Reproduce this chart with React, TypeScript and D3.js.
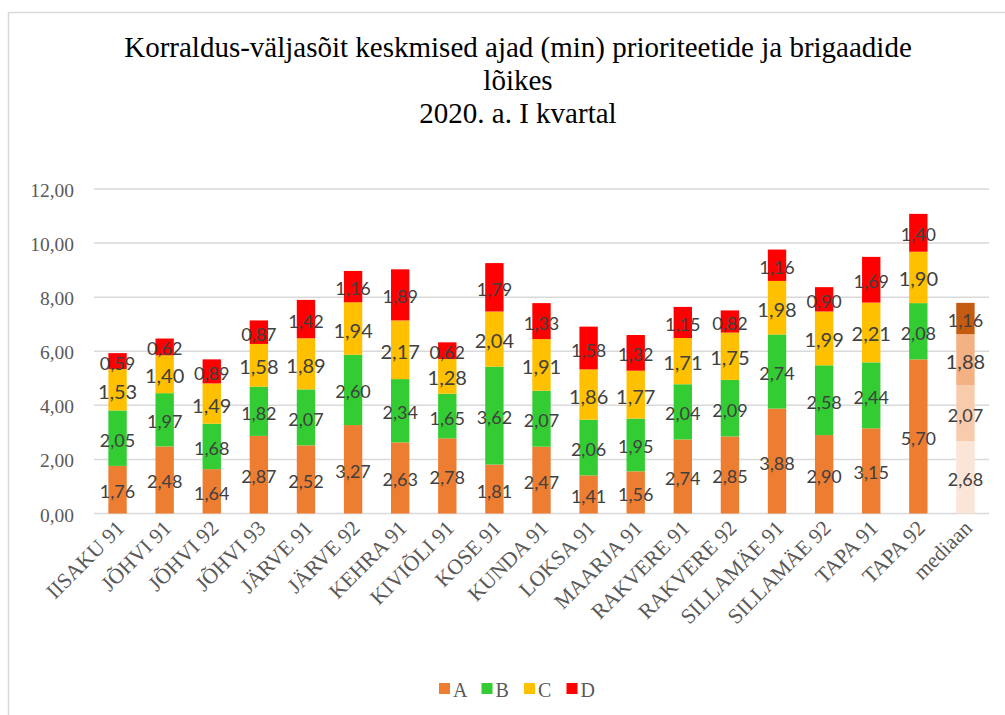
import React, { useEffect, useRef } from "react";
import * as d3 from "d3";

const categories = [
  "IISAKU 91", "JÕHVI 91", "JÕHVI 92", "JÕHVI 93", "JÄRVE 91", "JÄRVE 92",
  "KEHRA 91", "KIVIÕLI 91", "KOSE 91", "KUNDA 91", "LOKSA 91", "MAARJA 91",
  "RAKVERE 91", "RAKVERE 92", "SILLAMÄE 91", "SILLAMÄE 92", "TAPA 91", "TAPA 92",
  "mediaan",
];
const seriesA = [1.76, 2.48, 1.64, 2.87, 2.52, 3.27, 2.63, 2.78, 1.81, 2.47, 1.41, 1.56, 2.74, 2.85, 3.88, 2.90, 3.15, 5.70, 2.68];
const seriesB = [2.05, 1.97, 1.68, 1.82, 2.07, 2.60, 2.34, 1.65, 3.62, 2.07, 2.06, 1.95, 2.04, 2.09, 2.74, 2.58, 2.44, 2.08, 2.07];
const seriesC = [1.53, 1.40, 1.49, 1.58, 1.89, 1.94, 2.17, 1.28, 2.04, 1.91, 1.86, 1.77, 1.71, 1.75, 1.98, 1.99, 2.21, 1.90, 1.88];
const seriesD = [0.59, 0.62, 0.89, 0.87, 1.42, 1.16, 1.89, 0.62, 1.79, 1.33, 1.58, 1.32, 1.15, 0.82, 1.16, 0.90, 1.69, 1.40, 1.16];
const seriesNames = ["A", "B", "C", "D"];
const colors = ["#ED7D31", "#33CC33", "#FFC000", "#FF0000"];
const medianColors = ["#FBE5D6", "#F8CBAD", "#F4B183", "#C55A11"];
const yTicks = [0, 2, 4, 6, 8, 10, 12];
const titleLines = [
  "Korraldus-väljasõit keskmised ajad (min) prioriteetide ja brigaadide",
  "lõikes",
  "2020. a. I kvartal",
];

const W = 1005, H = 715;
const plot = { left: 94, right: 989, top: 189, bottom: 513.5 };
const SERIF = '"Liberation Serif", "Times New Roman", serif';
const SANS = "Lato, sans-serif";

const App = () => {
  const ref = useRef<SVGSVGElement>(null);

  useEffect(() => {
    const svg = d3.select(ref.current);
    svg.selectAll("*").remove();

    const locale = d3.formatLocale({ decimal: ",", thousands: " ", grouping: [3], currency: ["", ""] });
    const fmt = locale.format(".2f");

    // outer frame
    svg.append("rect")
      .attr("x", 8.5).attr("y", 12.5)
      .attr("width", W).attr("height", H)
      .attr("fill", "white")
      .attr("stroke", "#d9d9d9").attr("stroke-width", 1.5);

    // title
    svg.append("g").selectAll("text")
      .data(titleLines)
      .join("text")
      .attr("x", 518)
      .attr("y", (d, i) => 57 + i * 33)
      .attr("text-anchor", "middle")
      .style("font-family", SERIF)
      .style("font-size", "29px")
      .attr("fill", "#000")
      .text(d => d);

    const x = d3.scaleBand().domain(categories).range([plot.left, plot.right]).paddingInner(0.61).paddingOuter(0.305);
    const y = d3.scaleLinear().domain([0, 12]).range([plot.bottom, plot.top]);

    // gridlines
    svg.append("g").selectAll("line")
      .data(yTicks)
      .join("line")
      .attr("x1", plot.left).attr("x2", plot.right)
      .attr("y1", d => y(d)).attr("y2", d => y(d))
      .attr("stroke", "#d9d9d9").attr("stroke-width", 1.5);

    // y tick labels
    svg.append("g").selectAll("text")
      .data(yTicks)
      .join("text")
      .attr("x", 74)
      .attr("y", d => y(d) + 8)
      .attr("text-anchor", "end")
      .style("font-family", SERIF)
      .style("font-size", "19.5px")
      .attr("fill", "#595959")
      .text(d => fmt(d));

    const rows = categories.map((c, i) => ({ cat: c, A: seriesA[i], B: seriesB[i], C: seriesC[i], D: seriesD[i] }));
    const stacked = d3.stack<any>().keys(seriesNames)(rows);

    const layers = svg.append("g").selectAll("g")
      .data(stacked)
      .join("g");

    layers.selectAll("rect")
      .data((s, si) => s.map(d => ({ d, si })))
      .join("rect")
      .attr("x", ({ d }) => x(d.data.cat)!)
      .attr("width", x.bandwidth())
      .attr("y", ({ d }) => y(d[1]))
      .attr("height", ({ d }) => y(d[0]) - y(d[1]))
      .attr("fill", ({ d, si }) => d.data.cat === "mediaan" ? medianColors[si] : colors[si]);

    // data labels
    layers.selectAll("text")
      .data((s, si) => s.map(d => ({ d, si })))
      .join("text")
      .attr("x", ({ d }) => x(d.data.cat)! + x.bandwidth() / 2)
      .attr("y", ({ d, si }) => (y(d[0]) + y(d[1])) / 2 + (si === 2 ? 9 : 8.5))
      .attr("text-anchor", "middle")
      .style("font-family", SANS)
      .style("font-size", ({ si }) => si === 2 ? "20px" : "18px")
      .attr("fill", "#404040")
      .text(({ d }) => fmt(d[1] - d[0]));

    // category labels
    svg.append("g").selectAll("text")
      .data(categories)
      .join("text")
      .attr("transform", d => `translate(${x(d)! + x.bandwidth() / 2 + 8},${plot.bottom + 16}) rotate(-45)`)
      .attr("text-anchor", "end")
      .style("font-family", SERIF)
      .style("font-size", "21.5px")
      .attr("fill", "#595959")
      .text(d => d);

    // legend
    const legend = svg.append("g").selectAll("g")
      .data(seriesNames)
      .join("g")
      .attr("transform", (d, i) => `translate(${439 + i * 42.5},683)`);
    legend.append("rect")
      .attr("width", 11).attr("height", 11)
      .attr("fill", (d, i) => colors[i]);
    legend.append("text")
      .attr("x", 14).attr("y", 13.5)
      .style("font-family", SERIF)
      .style("font-size", "20px")
      .attr("fill", "#595959")
      .text(d => d);
  }, []);

  return (
    <svg ref={ref} width={W} height={H} style={{ position: "absolute", left: 0, top: 0, background: "white" }} />
  );
};

export default App;
